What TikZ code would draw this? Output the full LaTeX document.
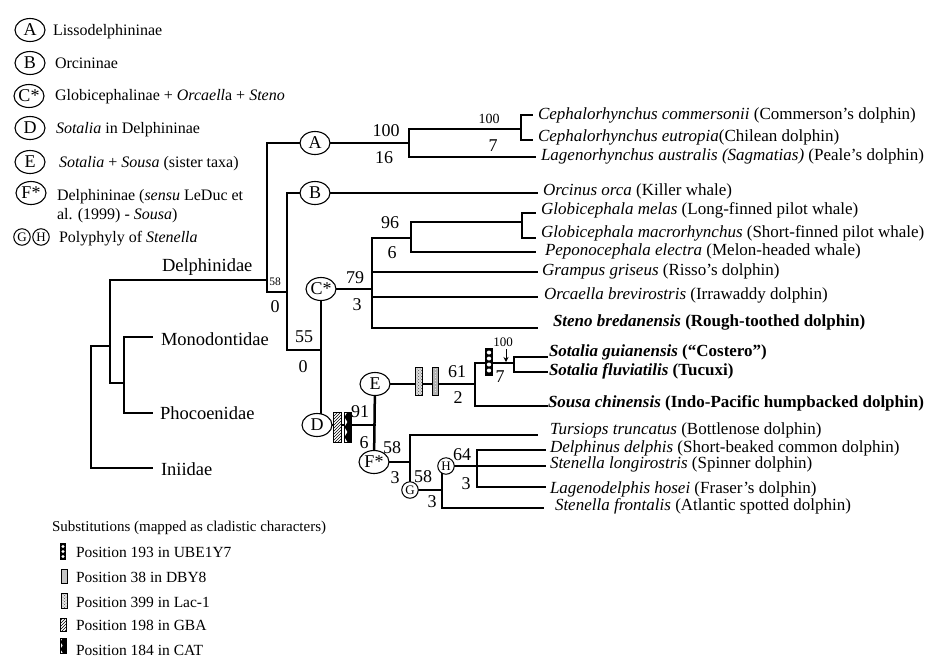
\documentclass[tikz,border=0pt]{standalone}
\usepackage{fontspec}
\setmainfont{Liberation Serif}
\usetikzlibrary{shapes.geometric,patterns,arrows.meta}
\pgfdeclarelayer{background}
\pgfsetlayers{background,main}
\newcommand\myfs[1]{\fontsize{#1}{#1}\selectfont}
\begin{document}
\begin{tikzpicture}[x=1pt,y=-1pt,
  every node/.style={inner sep=0pt,outer sep=0pt},
  br/.style={line width=2.5pt,line cap=rect,line join=miter},
  circ/.style={ellipse,draw,fill=white,line width=1.1pt,minimum width=30pt,minimum height=23pt,font=\myfs{18}},
  scirc/.style={circle,draw,fill=white,line width=1pt,minimum size=16.5pt,font=\myfs{13}},
  tax/.style={anchor=mid west,font=\myfs{17}},
  btax/.style={anchor=mid west,font=\myfs{17}\bfseries},
  num/.style={anchor=base,font=\myfs{18}},
  snum/.style={anchor=base,font=\myfs{14}},
  leg/.style={anchor=base west,font=\myfs{16}},
  sleg/.style={anchor=base west,font=\myfs{15.5}},
  fam/.style={anchor=base west,font=\myfs{18.5}},
  mk/.style={draw,line width=0.6pt}
]
\useasboundingbox (0,0) rectangle (932,657);

% ---------- legend of clades ----------
\node[circ] (lA) at (30,30) {A};
\node[leg] (tA) at (53,35) {Lissodelphininae};
\node[circ] (lB) at (30,63) {B};
\node[leg] (tB) at (55,68) {Orcininae};
\node[circ] (lC) at (29,96) {C*};
\node[leg] (tC) at (55,100) {Globicephalinae + \textit{Orcaell}a + \textit{Steno}};
\node[circ] (lD) at (30,128) {D};
\node[leg] (tD) at (56,133) {\textit{Sotalia} in Delphininae};
\node[circ] (lE) at (30,162) {E};
\node[leg] (tE) at (59,167) {\textit{Sotalia} + \textit{Sousa} (sister taxa)};
\node[circ] (lF) at (31,193) {F*};
\node[leg] (tF1) at (57,200) {Delphininae (\textit{sensu} LeDuc et};
\node[leg] (tF2) at (57,219) {al. (1999) - \textit{Sousa})};
\node[scirc] (lG) at (22,237) {G};
\node[scirc] (lH) at (41,237) {H};
\node[leg] (tGH) at (59,242) {Polyphyly of \textit{Stenella}};

% ---------- tree circles ----------
\node[circ] (A) at (315,143) {A};
\node[circ] (B) at (315,193) {B};
\node[circ] (C) at (321,289) {C*};
\node[circ] (D) at (317,425) {D};
\node[circ] (E) at (375,384) {E};
\node[circ] (F) at (374,462) {F*};
\node[scirc] (G) at (410,490) {G};
\node[scirc] (H) at (446,466) {H};

% ---------- coordinates ----------
\coordinate (f0a) at (91,346);
\coordinate (f0b) at (91,468);
\coordinate (f1) at (110,346);
\coordinate (f1a) at (110,280);
\coordinate (f1b) at (110,383);
\coordinate (f2) at (124,383);
\coordinate (f2a) at (124,337);
\coordinate (f2b) at (124,413);
\coordinate (eMono) at (152,337);
\coordinate (ePhoc) at (152,413);
\coordinate (eIni) at (152,468);
\coordinate (dA) at (267,280);
\coordinate (dAt) at (267,143);
\coordinate (dAb) at (267,292);
\coordinate (dBr) at (287,292);
\coordinate (dBt) at (287,193);
\coordinate (dBb) at (287,350);
\coordinate (dCD) at (321,350);

\coordinate (a1) at (409,143);
\coordinate (a1t) at (409,129);
\coordinate (a1b) at (409,157);
\coordinate (a2) at (521,129);
\coordinate (a2t) at (521,115);
\coordinate (a2b) at (521,140);
\coordinate (eCc) at (532,115);
\coordinate (eCe) at (532,140);
\coordinate (eLa) at (535,157);
\coordinate (eOr) at (537,193);

\coordinate (c1) at (372,289);
\coordinate (c1t) at (372,238);
\coordinate (c1b) at (372,328);
\coordinate (c1g) at (372,272);
\coordinate (c1o) at (372,297);
\coordinate (c2) at (411,238);
\coordinate (c2t) at (411,222);
\coordinate (c2b) at (411,252);
\coordinate (c3) at (522,222);
\coordinate (c3t) at (522,213);
\coordinate (c3b) at (522,238);
\coordinate (eGm) at (535,213);
\coordinate (eGma) at (535,238);
\coordinate (ePe) at (535,252);
\coordinate (eGr) at (537,272);
\coordinate (eOc) at (537,297);
\coordinate (eSt) at (537,328);

\coordinate (d1) at (375,425);
\coordinate (e1) at (475,384);
\coordinate (e1t) at (475,363);
\coordinate (e1b) at (475,406);
\coordinate (e2) at (514,363);
\coordinate (e2t) at (514,357);
\coordinate (e2b) at (514,372);
\coordinate (eSg) at (547,357);
\coordinate (eSf) at (547,372);
\coordinate (eSo) at (547,406);

\coordinate (g0) at (410,462);
\coordinate (g0t) at (410,435);
\coordinate (eTu) at (537,435);
\coordinate (g1) at (442,490);
\coordinate (g1t) at (442,466);
\coordinate (g1b) at (442,508);
\coordinate (eSfr) at (543,508);
\coordinate (h1) at (477,466);
\coordinate (h1t) at (477,450);
\coordinate (h1b) at (477,487);
\coordinate (eDd) at (545,450);
\coordinate (eSl) at (545,466);
\coordinate (eLh) at (545,487);

\coordinate (arS) at (506,349);
\coordinate (arE) at (506,362);

% ---------- branches ----------
\begin{pgfonlayer}{background}
\draw[br] (f1) -- (f0a) -- (f0b) -- (eIni);
\draw[br] (f1a) -- (f1b) -- (f2);
\draw[br] (eMono) -- (f2a) -- (f2b) -- (ePhoc);
\draw[br] (f1a) -- (dA);
\draw[br] (A.center) -- (dAt) -- (dAb) -- (dBr);
\draw[br] (B.center) -- (dBt) -- (dBb) -- (dCD);
\draw[br] (C.center) -- (C.center |- D.center);
\draw[br] (A.center) -- (a1);
\draw[br] (a1t) -- (a1b) -- (eLa);
\draw[br] (a1t) -- (a2);
\draw[br] (eCc) -- (a2t) -- (a2b) -- (eCe);
\draw[br] (B.center) -- (eOr);
\draw[br] (C.center) -- (c1);
\draw[br] (c1t) -- (c1b) -- (eSt);
\draw[br] (c1t) -- (c2);
\draw[br] (c2t) -- (c2b) -- (ePe);
\draw[br] (c2t) -- (c3);
\draw[br] (eGm) -- (c3t) -- (c3b) -- (eGma);
\draw[br] (c1g) -- (eGr);
\draw[br] (c1o) -- (eOc);
\draw[br] (D.center) -- (d1);
\draw[br] (E.center) -- (F.center);
\draw[br] (E.center) -- (e1);
\draw[br] (e1t) -- (e1b) -- (eSo);
\draw[br] (e1t) -- (e2);
\draw[br] (eSg) -- (e2t) -- (e2b) -- (eSf);
\draw[br] (F.center) -- (g0);
\draw[br] (eTu) -- (g0t) -- (G.center);
\draw[br] (G.center) -- (g1);
\draw[br] (g1t) -- (g1b) -- (eSfr);
\draw[br] (H.center) -- (h1);
\draw[br] (eDd) -- (h1t) -- (h1b) -- (eLh);
\draw[br] (h1) -- (eSl);
\end{pgfonlayer}

\draw[line width=0.9pt,-{Stealth[length=5pt,width=5pt]}] (arS) -- (arE);

% ---------- substitution marks on the tree ----------
\fill[white] (333,412) rectangle (341,442);
\draw[mk,pattern=north east lines] (333,412) rectangle (341,442);
\draw[mk,fill=white] (344,412) rectangle (351,442);
\fill (351,412) -- (347.5,412) -- (344.5,417) -- (347.5,422) -- (344.5,427) -- (347.5,432) -- (344.5,437) -- (347.5,442) -- (351,442) -- cycle;
\fill[gray!25] (415,367) rectangle (422,395);
\draw[mk,pattern=crosshatch dots,pattern color=black!70] (415,367) rectangle (422,395);
\draw[mk,fill=gray!60] (432,367) rectangle (438,395);
\draw[gray!20,line width=0.8pt,dotted] (435,369) -- (435,393);
\fill (485,348) rectangle (493,376);
\foreach \yy in {352.5,358.5,364.5,370.5} \fill[white] (489,\yy) ellipse (2.2 and 2);

% ---------- family labels ----------
\node[fam] (Ldel) at (162,271) {Delphinidae};
\node[fam] (Lmon) at (161,345) {Monodontidae};
\node[fam] (Lpho) at (160,419) {Phocoenidae};
\node[fam] (Lini) at (161,475) {Iniidae};

% ---------- support numbers ----------
\node[num] (n100a) at (386,136) {100};
\node[num] (n16) at (384,163) {16};
\node[snum] (n100b) at (489,123) {100};
\node[num] (n7a) at (493,151) {7};
\node[num] (n96) at (390,228) {96};
\node[num] (n6a) at (392,258) {6};
\node[num] (n79) at (355,283) {79};
\node[num] (n3a) at (357,310) {3};
\node[num] (n55) at (304,342) {55};
\node[num] (n0a) at (303,372) {0};
\node[anchor=base,font=\myfs{11.5}] (n58a) at (275,285) {58};
\node[num] (n0b) at (275,312) {0};
\node[num] (n91) at (360,417) {91};
\node[num] (n6b) at (364,448) {6};
\node[num] (n61) at (457,377) {61};
\node[num] (n2) at (458,403) {2};
\node[anchor=base,font=\myfs{13}] (n100c) at (503,346) {100};
\node[num] (n7b) at (500,382) {7};
\node[num] (n58b) at (392,453) {58};
\node[num] (n3b) at (395,483) {3};
\node[num] (n58c) at (423,482) {58};
\node[num] (n3c) at (432,507) {3};
\node[num] (n64) at (462,460) {64};
\node[num] (n3d) at (466,489) {3};

% ---------- taxa ----------
\node[tax] (t1) at (538,117) {\textit{Cephalorhynchus commersonii} (Commerson's dolphin)};
\node[tax] (t2) at (538,139) {\textit{Cephalorhynchus eutropia}(Chilean dolphin)};
\node[tax] (t3) at (541,158) {\textit{Lagenorhynchus australis (Sagmatias)} (Peale's dolphin)};
\node[tax] (t4) at (543,193) {\textit{Orcinus orca} (Killer whale)};
\node[tax] (t5) at (541,212) {\textit{Globicephala melas} (Long-finned pilot whale)};
\node[tax] (t6) at (541,235) {\textit{Globicephala macrorhynchus} (Short-finned pilot whale)};
\node[tax] (t7) at (545,253) {\textit{Peponocephala electra} (Melon-headed whale)};
\node[tax] (t8) at (542,273) {\textit{Grampus griseus} (Risso's dolphin)};
\node[tax] (t9) at (544,297) {\textit{Orcaella brevirostris} (Irrawaddy dolphin)};
\node[btax] (t10) at (553,324) {\textit{Steno bredanensis} (Rough-toothed dolphin)};
\node[btax] (t11) at (549,354) {\textit{Sotalia guianensis} (``Costero'')};
\node[btax] (t12) at (549,373) {\textit{Sotalia fluviatilis} (Tucuxi)};
\node[btax] (t13) at (548,405) {\textit{Sousa chinensis} (Indo-Pacific humpbacked dolphin)};
\node[tax] (t14) at (550,432) {\textit{Tursiops truncatus} (Bottlenose dolphin)};
\node[tax] (t15) at (550,450) {\textit{Delphinus delphis} (Short-beaked common dolphin)};
\node[tax] (t16) at (550,466) {\textit{Stenella longirostris} (Spinner dolphin)};
\node[tax] (t17) at (550,491) {\textit{Lagenodelphis hosei} (Fraser's dolphin)};
\node[tax] (t18) at (555,508) {\textit{Stenella frontalis} (Atlantic spotted dolphin)};

% ---------- substitutions legend ----------
\node[anchor=base west,font=\myfs{15}] (sub) at (52,531) {Substitutions (mapped as cladistic characters)};
\fill (60,543) rectangle (66,560);
\foreach \yy in {546.5,551.5,556.5} \fill[white] (63,\yy) ellipse (1.6 and 1.7);
\node[sleg] (s1) at (76,557) {Position 193 in UBE1Y7};
\draw[mk,fill=gray!45] (61,569) rectangle (67,583);
\node[sleg] (s2) at (76,582) {Position 38 in DBY8};
\fill[gray!20] (61,593) rectangle (67,608);
\draw[mk,pattern=crosshatch dots,pattern color=black!70] (61,593) rectangle (67,608);
\node[sleg] (s3) at (76,607) {Position 399 in Lac-1};
\draw[mk,pattern=north east lines] (60,618) rectangle (66,631);
\node[sleg] (s4) at (76,630) {Position 198 in GBA};
\draw[mk] (60,638) rectangle (66,653);
\fill (66,638) -- (62.8,638) -- (60.5,642) -- (62.8,645.5) -- (60.5,649) -- (62.8,653) -- (66,653) -- cycle;
\node[sleg] (s5) at (76,655) {Position 184 in CAT};
\end{tikzpicture}
\end{document}
